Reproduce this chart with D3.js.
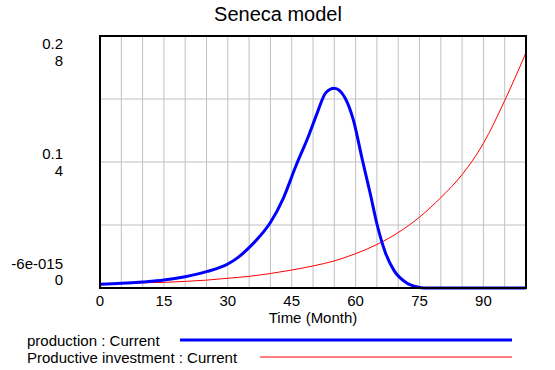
<!DOCTYPE html>
<html>
<head>
<meta charset="utf-8">
<script src="https://cdn.jsdelivr.net/npm/d3@7"></script>
<style>
  html, body { margin: 0; padding: 0; background: #fff; }
  svg { display: block; font-family: "Liberation Sans", Arial, sans-serif; }
</style>
</head>
<body>
<svg id="chart" width="555" height="370"></svg>
<script>
// ---- data ----
const title = "Seneca model";
const xLabel = "Time (Month)";
const xTicks = [0, 15, 30, 45, 60, 75, 90];
const productionTime  = [0, 5, 10, 15, 20, 25, 30, 32.5, 35, 37.5, 40, 43, 46, 49, 51, 53, 55, 57.5, 59.5, 61.5, 63.5, 65, 67, 69, 72, 74.5, 76, 80, 90, 100];
const productionValue = [0.003, 0.0037, 0.0048, 0.0063, 0.009, 0.013, 0.019, 0.0245, 0.032, 0.041, 0.052, 0.071, 0.097, 0.121, 0.139, 0.155, 0.1585, 0.151, 0.133, 0.103, 0.074, 0.051, 0.028, 0.014, 0.004, 0.0008, 0, 0, 0, 0];
const investmentTime  = [0, 5, 10, 15, 20, 25, 30, 35, 40, 45, 50, 55, 60, 65, 70, 75, 80, 85, 90, 95, 100];
const investmentValue = [0.12, 0.14, 0.165, 0.18, 0.21, 0.25, 0.31, 0.37, 0.46, 0.57, 0.70, 0.86, 1.09, 1.38, 1.76, 2.25, 2.87, 3.60, 4.59, 5.95, 7.47];
const productionAxisLabels = ["-6e-015", "0.1", "0.2"];
const investmentAxisLabels = ["0", "4", "8"];
const legendNames = ["production : Current", "Productive investment : Current"];

// ---- layout ----
const svg = d3.select("#chart");
const L = 100, R = 526, T = 36, B = 288;
const x = d3.scaleLinear().domain([0, 100]).range([L, R]);
const yP = d3.scaleLinear().domain([0, 0.2]).range([B, T]);
const yI = d3.scaleLinear().domain([0, 8]).range([B, T]);

// gridlines
const g = svg.append("g");
g.selectAll("line.vg").data(d3.range(5, 100, 5)).enter().append("line")
  .attr("x1", d => x(d)).attr("x2", d => x(d))
  .attr("y1", T).attr("y2", B)
  .attr("stroke", "#c0c0c0").attr("stroke-width", 1);
g.selectAll("line.hg").data([0.05, 0.1, 0.15]).enter().append("line")
  .attr("x1", L).attr("x2", R)
  .attr("y1", d => yP(d)).attr("y2", d => yP(d))
  .attr("stroke", "#c0c0c0").attr("stroke-width", 1);

// series
const lineP = d3.line().x((d, i) => x(productionTime[i])).y(d => yP(d)).curve(d3.curveMonotoneX);
const lineI = d3.line().x((d, i) => x(investmentTime[i])).y(d => yI(d)).curve(d3.curveMonotoneX);
svg.append("path").attr("d", lineI(investmentValue))
  .attr("fill", "none").attr("stroke", "#ff0000").attr("stroke-width", 1);
svg.append("path").attr("d", lineP(productionValue))
  .attr("fill", "none").attr("stroke", "#0000ff").attr("stroke-width", 3)
  .attr("stroke-linejoin", "round");

// frame
svg.append("rect").attr("x", L).attr("y", T).attr("width", R - L).attr("height", B - T)
  .attr("fill", "none").attr("stroke", "#000").attr("stroke-width", 2);

// title
svg.append("text").attr("x", 278).attr("y", 21).attr("text-anchor", "middle")
  .attr("font-size", 20).attr("fill", "#000").text(title);

// x axis labels
svg.selectAll("text.xt").data(xTicks).enter().append("text")
  .attr("x", d => x(d)).attr("y", 306).attr("text-anchor", "middle")
  .attr("font-size", 15).attr("fill", "#000").text(d => d);
svg.append("text").attr("x", (L + R) / 2).attr("y", 323).attr("text-anchor", "middle")
  .attr("font-size", 15).attr("fill", "#000").text(xLabel);

// y axis labels (two stacked scales)
const yVals = [0, 0.1, 0.2];
const offsets = [[-19, -3], [-3, 14], [13, 30]];
yVals.forEach((v, i) => {
  svg.append("text").attr("x", 63).attr("y", yP(v) + offsets[i][0])
    .attr("text-anchor", "end").attr("font-size", 15).attr("fill", "#000")
    .text(productionAxisLabels[i]);
  svg.append("text").attr("x", 63).attr("y", yP(v) + offsets[i][1])
    .attr("text-anchor", "end").attr("font-size", 15).attr("fill", "#000")
    .text(investmentAxisLabels[i]);
});

// legend
const leg = [
  { name: legendNames[0], color: "#0000ff", w: 3, ty: 346, ly: 340, lx: 180 },
  { name: legendNames[1], color: "#ff0000", w: 1, ty: 362.5, ly: 357, lx: 260 }
];
leg.forEach(d => {
  svg.append("text").attr("x", 27).attr("y", d.ty).attr("font-size", 15)
    .attr("fill", "#000").text(d.name);
  svg.append("line").attr("x1", d.lx).attr("x2", 512).attr("y1", d.ly).attr("y2", d.ly)
    .attr("stroke", d.color).attr("stroke-width", d.w);
});
</script>
</body>
</html>
